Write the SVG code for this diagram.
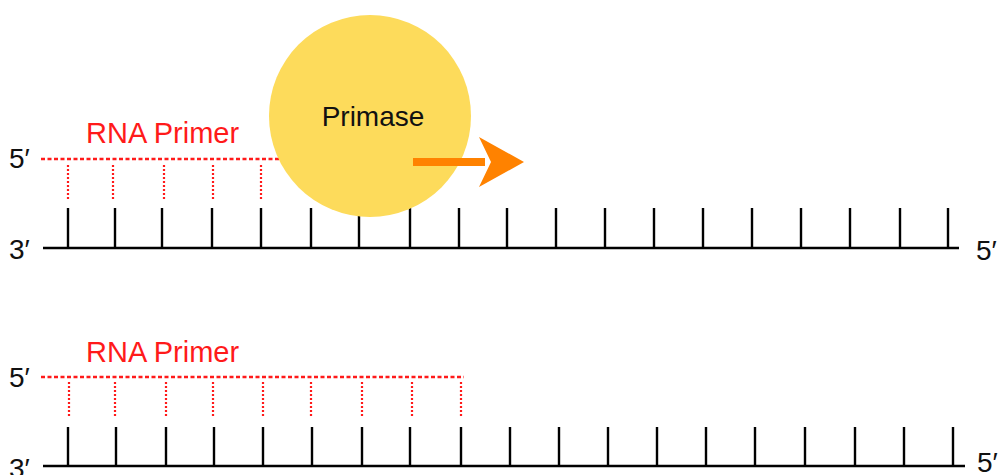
<svg xmlns="http://www.w3.org/2000/svg" width="1004" height="475" viewBox="0 0 1004 475">
<style>
.lbl{font-family:"Liberation Sans",Arial,sans-serif;font-size:28px;fill:#111}
.red{font-family:"Liberation Sans",Arial,sans-serif;font-size:29px;fill:#ff1a1a}
.strand{stroke:#000;stroke-width:2.6;fill:none}
.tick{stroke:#000;stroke-width:2.4}
.rdash{stroke:#ff1a1a;stroke-width:2.5;stroke-dasharray:4 2.5;fill:none}
.rdot{stroke:#ff1a1a;stroke-width:2.2;stroke-dasharray:2 2}
</style>
<g id="connectors">
<line class="strand" x1="43" y1="248" x2="959" y2="248"/>
<g class="tick">
<line x1="68" y1="208" x2="68" y2="248"/>
<line x1="115" y1="208" x2="115" y2="248"/>
<line x1="162" y1="208" x2="162" y2="248"/>
<line x1="212" y1="208" x2="212" y2="248"/>
<line x1="261" y1="208" x2="261" y2="248"/>
<line x1="311" y1="208" x2="311" y2="248"/>
<line x1="359" y1="208" x2="359" y2="248"/>
<line x1="410" y1="208" x2="410" y2="248"/>
<line x1="459" y1="208" x2="459" y2="248"/>
<line x1="507" y1="208" x2="507" y2="248"/>
<line x1="556" y1="208" x2="556" y2="248"/>
<line x1="605" y1="208" x2="605" y2="248"/>
<line x1="654" y1="208" x2="654" y2="248"/>
<line x1="703" y1="208" x2="703" y2="248"/>
<line x1="752" y1="208" x2="752" y2="248"/>
<line x1="801" y1="208" x2="801" y2="248"/>
<line x1="850" y1="208" x2="850" y2="248"/>
<line x1="900" y1="208" x2="900" y2="248"/>
<line x1="948" y1="208" x2="948" y2="248"/>
</g>
<line class="rdash" x1="41" y1="159" x2="300" y2="159"/>
<g class="rdot">
<line x1="68" y1="165" x2="68" y2="200"/>
<line x1="113" y1="165" x2="113" y2="200"/>
<line x1="164" y1="165" x2="164" y2="200"/>
<line x1="213" y1="165" x2="213" y2="200"/>
<line x1="261" y1="165" x2="261" y2="200"/>
</g>
<line class="strand" x1="43" y1="466" x2="965" y2="466"/>
<g class="tick">
<line x1="68" y1="427" x2="68" y2="466"/>
<line x1="116" y1="427" x2="116" y2="466"/>
<line x1="166" y1="427" x2="166" y2="466"/>
<line x1="214" y1="427" x2="214" y2="466"/>
<line x1="263" y1="427" x2="263" y2="466"/>
<line x1="312" y1="427" x2="312" y2="466"/>
<line x1="362" y1="427" x2="362" y2="466"/>
<line x1="410" y1="427" x2="410" y2="466"/>
<line x1="461" y1="427" x2="461" y2="466"/>
<line x1="510" y1="427" x2="510" y2="466"/>
<line x1="559" y1="427" x2="559" y2="466"/>
<line x1="608" y1="427" x2="608" y2="466"/>
<line x1="657" y1="427" x2="657" y2="466"/>
<line x1="706" y1="427" x2="706" y2="466"/>
<line x1="755" y1="427" x2="755" y2="466"/>
<line x1="805" y1="427" x2="805" y2="466"/>
<line x1="855" y1="427" x2="855" y2="466"/>
<line x1="904" y1="427" x2="904" y2="466"/>
<line x1="953" y1="427" x2="953" y2="466"/>
</g>
<line class="rdash" x1="41" y1="377" x2="464" y2="377"/>
<g class="rdot">
<line x1="69" y1="382" x2="69" y2="418"/>
<line x1="115" y1="382" x2="115" y2="418"/>
<line x1="166" y1="382" x2="166" y2="418"/>
<line x1="213" y1="382" x2="213" y2="418"/>
<line x1="263" y1="382" x2="263" y2="418"/>
<line x1="311" y1="382" x2="311" y2="418"/>
<line x1="362" y1="382" x2="362" y2="418"/>
<line x1="412" y1="382" x2="412" y2="418"/>
<line x1="461" y1="382" x2="461" y2="418"/>
</g>
</g>
<g id="labels">
<text class="lbl" x="9" y="168">5′</text>
<text class="lbl" x="9" y="259">3′</text>
<text class="lbl" x="976" y="260">5′</text>
<text class="red" x="86" y="143">RNA Primer</text>
<text class="lbl" x="9" y="387">5′</text>
<text class="lbl" x="9" y="478">3′</text>
<text class="lbl" x="977" y="472">5′</text>
<text class="red" x="86" y="362">RNA Primer</text>
</g>
<g id="primase">
<circle cx="370" cy="116" r="101" fill="#fddb5b"/>
<text x="373" y="126" text-anchor="middle" style="font-family:'Liberation Sans',Arial,sans-serif;font-size:28px;fill:#111">Primase</text>
</g>
<g id="arrow">
<rect x="413" y="158" width="72" height="8" fill="#ff8200"/>
<polygon points="479,137 524,162 479,187 491,162" fill="#ff8200"/>
</g>
</svg>
